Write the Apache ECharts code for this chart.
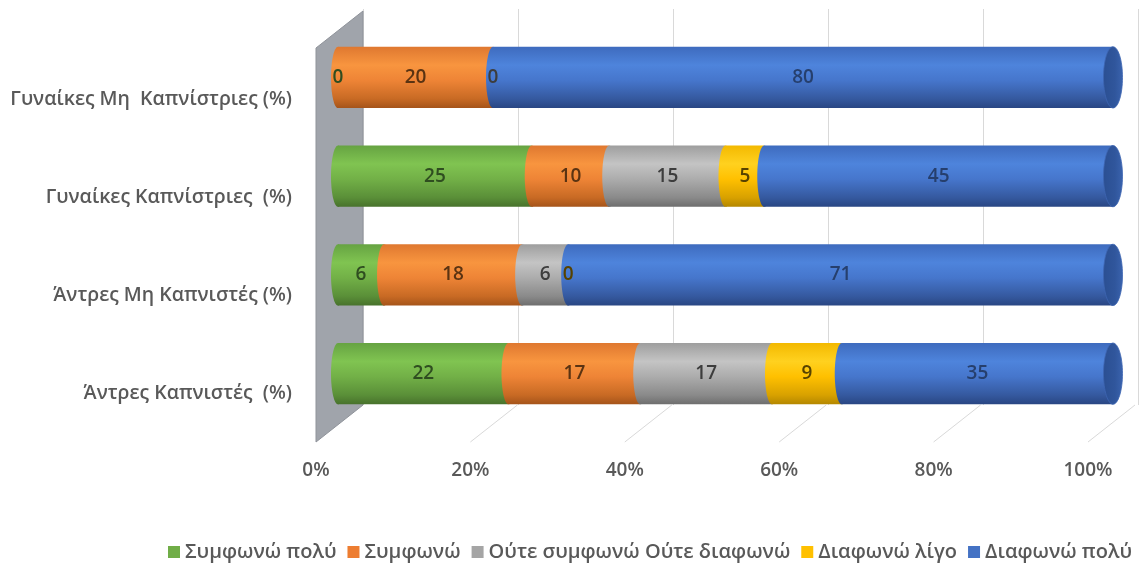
<!DOCTYPE html>
<html>
<head>
<meta charset="utf-8">
<script src="https://cdn.jsdelivr.net/npm/echarts@6/dist/echarts.min.js"></script>
<style>
  html, body { margin: 0; padding: 0; background: #ffffff; }
  #chart { width: 1139px; height: 565px; }
</style>
</head>
<body>
<div id="chart"></div>
<script>
// Categories, listed top to bottom
const categories = [
  'Γυναίκες Μη  Καπνίστριες (%)',
  'Γυναίκες Καπνίστριες  (%)',
  'Άντρες Μη Καπνιστές (%)',
  'Άντρες Καπνιστές  (%)'
];

// Answer groups (legend order)
const seriesNames = ['Συμφωνώ πολύ', 'Συμφωνώ', 'Ούτε συμφωνώ Ούτε διαφωνώ', 'Διαφωνώ λίγο', 'Διαφωνώ πολύ'];

// Percentages per category (same order as categories)
const agreeMuch      = [0, 25, 6, 22];
const agree          = [20, 10, 18, 17];
const neutral        = [0, 15, 6, 17];
const disagreeLittle = [null, 5, 0, 9];
const disagreeMuch   = [80, 45, 71, 35];

// Value-axis ticks
const tickValues = [0, 20, 40, 60, 80, 100];

const seriesValues = [agreeMuch, agree, neutral, disagreeLittle, disagreeMuch];

// Colours: base, cylinder shading stops, label ink
const palette = [
  { base: '#70ad47', shade: ['#66a342', '#80c451', '#72b047', '#5a8f38', '#48722c'], ink: '#2f4d20' },
  { base: '#ed7d31', shade: ['#df7830', '#f8953f', '#ee8436', '#c86a24', '#a5541a'], ink: '#5a3312' },
  { base: '#a5a5a5', shade: ['#9e9e9e', '#c4c4c4', '#acacac', '#8a8a8a', '#6e6e6e'], ink: '#3d3d3d' },
  { base: '#ffc000', shade: ['#f3b900', '#ffd11f', '#ffc000', '#d8a100', '#b48700'], ink: '#574200' },
  { base: '#4472c4', shade: ['#3e6bbe', '#4e84dc', '#4676cc', '#35599f', '#294683'], ink: '#263f6d' }
];

const FONT = '"Open Sans", sans-serif';

function shadeGradient(stops) {
  return new echarts.graphic.LinearGradient(0, 0, 0, 1, [
    { offset: 0, color: stops[0] },
    { offset: 0.3, color: stops[1] },
    { offset: 0.55, color: stops[2] },
    { offset: 0.85, color: stops[3] },
    { offset: 1, color: stops[4] }
  ]);
}

// Stacked 100% extents: [categoryIndex, start, end, raw value]
const totals = categories.map((_, c) =>
  seriesValues.reduce((s, arr) => s + (arr[c] == null ? 0 : arr[c]), 0));
const stackedData = seriesValues.map((arr, si) =>
  categories.map((_, c) => {
    let before = 0;
    for (let k = 0; k < si; k++) before += seriesValues[k][c] == null ? 0 : seriesValues[k][c];
    const v = arr[c] == null ? 0 : arr[c];
    return [c, before / totals[c] * 100, (before + v) / totals[c] * 100, arr[c] == null ? '' : arr[c]];
  }));

const DEPTH = [47, -37];   // floor/wall depth offset
const EDGE_RX = 7;         // curvature of segment starts
const CAP_RX = 9.5;        // half-width of the end cap ellipse

function cylinderSegment(si) {
  const col = palette[si];
  return function (params, api) {
    const c = api.value(0), s = api.value(1), e = api.value(2);
    const raw = stackedData[si][params.dataIndex][3];
    const p0 = api.coord([s, c]);
    const p1 = api.coord([e, c]);
    const h = api.size([0, 1])[1] * 0.62;
    const top = p0[1] - h / 2;
    const children = [];
    if (p1[0] - p0[0] > 0.5) {
      children.push({
        type: 'rect', z2: 1,
        shape: { x: p0[0], y: top, width: p1[0] - p0[0], height: h },
        style: { fill: shadeGradient(col.shade) }
      });
      children.push({
        type: 'ellipse', z2: 2,
        shape: { cx: p0[0], cy: p0[1], rx: EDGE_RX, ry: h / 2 },
        style: { fill: shadeGradient(col.shade) }
      });
      if (si === seriesValues.length - 1) {
        children.push({
          type: 'ellipse', z2: 3,
          shape: { cx: p1[0], cy: p1[1], rx: CAP_RX, ry: h / 2 },
          style: {
            fill: new echarts.graphic.LinearGradient(0, 0, 1, 0, [
              { offset: 0, color: '#2b4f92' },
              { offset: 0.6, color: '#30569c' },
              { offset: 1, color: '#3a63ae' }
            ]),
            stroke: '#3d66b3', lineWidth: 0.8
          }
        });
      }
    }
    if (raw !== '') {
      children.push({
        type: 'text', z2: 100,
        style: {
          x: (p0[0] + p1[0]) / 2, y: p0[1],
          text: String(raw),
          align: 'center', verticalAlign: 'middle',
          fill: col.ink,
          font: '600 19px ' + FONT
        }
      });
    }
    return { type: 'group', children: children };
  };
}

const chart = echarts.init(document.getElementById('chart'), null, { renderer: 'canvas' });

const option = {
  backgroundColor: '#ffffff',
  animation: false,
  grid: [
    { left: 363, top: 9, width: 775, height: 396 },   // back wall
    { left: 316, top: 51, width: 772, height: 391 },  // front edge (labels, floor)
    { left: 338, top: 28, width: 775, height: 395 }   // bar plane
  ],
  xAxis: [
    {
      gridIndex: 0, type: 'value', min: 0, max: 100, interval: 20,
      axisLine: { show: false }, axisTick: { show: false }, axisLabel: { show: false },
      splitLine: { show: true, lineStyle: { color: '#d9d9d9', width: 1 } }
    },
    {
      gridIndex: 1, type: 'value', min: 0, max: 100, interval: 20,
      axisLine: { show: false }, axisTick: { show: false }, splitLine: { show: false },
      axisLabel: {
        formatter: '{value}%', color: '#595959', fontSize: 19, margin: 19,
        fontFamily: FONT, fontWeight: 600
      }
    },
    {
      gridIndex: 2, type: 'value', min: 0, max: 100, show: false
    }
  ],
  yAxis: [
    { gridIndex: 0, type: 'category', data: categories, inverse: true, show: false },
    {
      gridIndex: 1, type: 'category', data: categories, inverse: true,
      axisLine: { show: false }, axisTick: { show: false }, splitLine: { show: false },
      axisLabel: {
        color: '#595959', fontSize: 19.5, margin: 24,
        fontFamily: FONT, fontWeight: 600
      }
    },
    { gridIndex: 2, type: 'category', data: categories, inverse: true, show: false }
  ],
  legend: {
    data: seriesNames,
    right: 2, top: 537,
    icon: 'rect', itemWidth: 12, itemHeight: 12, itemGap: 11,
    textStyle: { color: '#595959', fontSize: 20, fontFamily: FONT, fontWeight: 600 }
  },
  series: [
    // side wall and floor grid lines
    {
      type: 'custom', name: 'floor', z: 1, silent: true,
      xAxisIndex: 1, yAxisIndex: 1,
      data: tickValues.map(v => [v]),
      renderItem: function (params, api) {
        const cs = params.coordSys;
        const v = api.value(0);
        const x = api.coord([v, 0])[0];
        const B = cs.y + cs.height;
        if (v === 0) {
          return {
            type: 'polygon',
            shape: {
              points: [
                [x, B],
                [x, cs.y - 3],
                [x + DEPTH[0], cs.y - 3 + DEPTH[1]],
                [x + DEPTH[0], B + DEPTH[1]]
              ]
            },
            style: { fill: '#a0a4ab', stroke: '#8f939a', lineWidth: 1 }
          };
        }
        return {
          type: 'line',
          shape: { x1: x, y1: B, x2: x + DEPTH[0], y2: B + DEPTH[1] },
          style: { stroke: '#d9d9d9', lineWidth: 1 }
        };
      }
    }
  ].concat(seriesNames.map((name, si) => ({
    type: 'custom', name: name, z: 2,
    xAxisIndex: 2, yAxisIndex: 2,
    itemStyle: { color: palette[si].base },
    encode: { x: [1, 2], y: 0 },
    data: stackedData[si].map(d => [d[0], d[1], d[2]]),
    renderItem: cylinderSegment(si)
  })))
};

chart.setOption(option);
</script>
</body>
</html>
